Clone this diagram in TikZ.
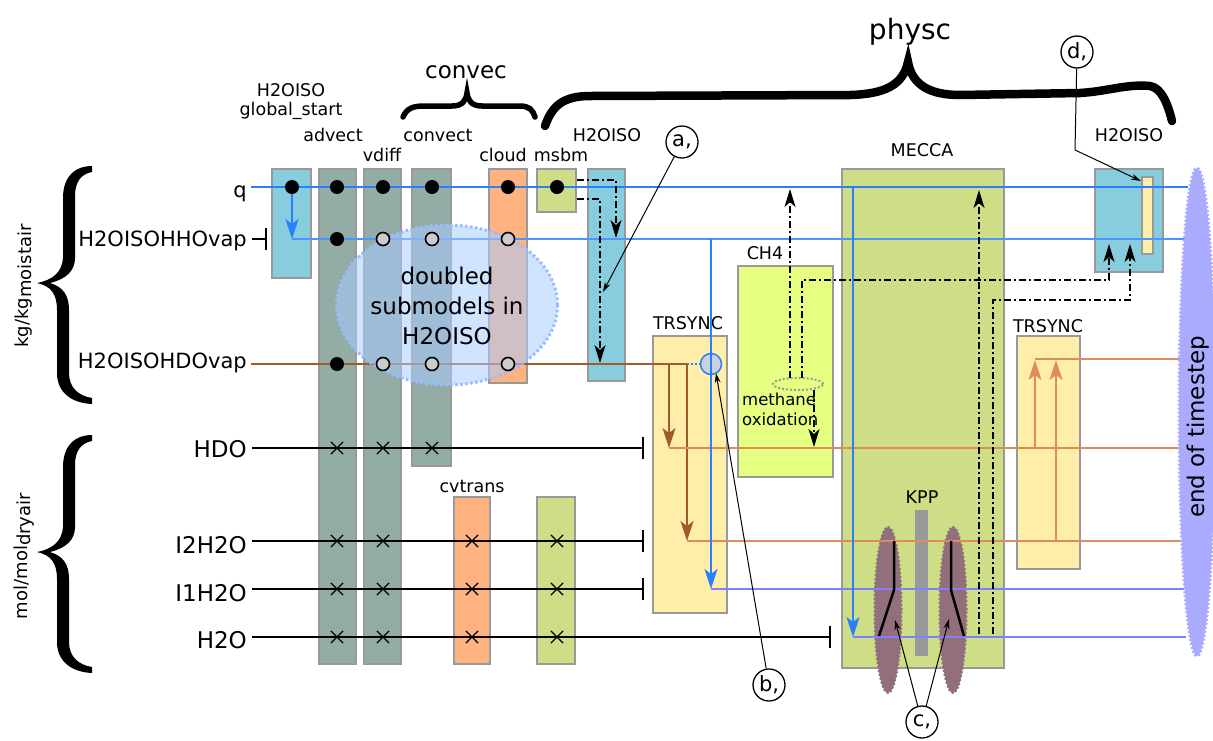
\documentclass[tikz,border=0pt]{standalone}
\usepackage{fontspec}
\setmainfont{DejaVu Sans}
\usetikzlibrary{arrows.meta,fit,shapes.geometric,shapes.misc}
\definecolor{boxgrey}{HTML}{999999}
\definecolor{isoblue}{HTML}{87CDDE}
\definecolor{advgrey}{HTML}{93ACA5}
\definecolor{cloudor}{HTML}{FFB380}
\definecolor{msbmgr}{HTML}{CDDE87}
\definecolor{chfour}{HTML}{E5FF80}
\definecolor{trsy}{HTML}{FFEEAA}
\definecolor{qblue}{HTML}{2A7FFF}
\definecolor{lblue}{HTML}{4D94FF}
\definecolor{purp}{HTML}{8080FF}
\definecolor{hdbrown}{HTML}{A05A2C}
\definecolor{lorange}{HTML}{DE8C5A}
\definecolor{tsblue}{HTML}{AAAAFF}
\definecolor{kppmauve}{HTML}{916F7C}
\definecolor{dblfill}{HTML}{AACCFF}
\definecolor{dbledge}{HTML}{99BBFF}
\definecolor{dotgrey}{HTML}{CCCCCC}
\definecolor{circfill}{HTML}{C8D3DC}
\begin{document}
\begin{tikzpicture}[x=1pt,y=-1pt,
  arr/.style={-{Stealth[length=20pt,width=13pt,inset=5pt]}},
  ddtip/.style={-{Stealth[length=18pt,width=11pt,inset=5pt]}},
  box/.style={draw=boxgrey,line width=2pt,inner sep=0pt,outer sep=0pt},
  lbl/.style={font=\fontsize{17.5}{20}\selectfont,inner sep=0pt},
  rowa/.style={font=\fontsize{21}{24}\selectfont,anchor=base east,inner sep=0pt},
  rowb/.style={font=\fontsize{23}{26}\selectfont,anchor=base east,inner sep=0pt},
  qline/.style={draw=qblue,line width=2pt},
  hhline/.style={draw=lblue,line width=2pt},
  hdline/.style={draw=hdbrown,line width=2pt},
  orline/.style={draw=lorange,line width=2pt},
  puline/.style={draw=purp,line width=2pt},
  blkline/.style={draw=black,line width=2.2pt,-{Bar[width=22pt]}},
  dd/.style={draw=black,line width=2pt,dash pattern=on 7pt off 3pt on 2pt off 3pt},
  bdot/.style={circle,fill=black,minimum size=14pt,inner sep=0pt},
  odot/.style={circle,draw=black,fill=dotgrey,line width=1.6pt,minimum size=13pt,inner sep=0pt},
  xmk/.style={cross out,draw=black,line width=1.2pt,minimum size=11pt,inner sep=0pt},
  callout/.style={circle,draw=black,line width=1.3pt,fill=white,minimum size=32pt,inner sep=0pt,font=\fontsize{21}{22}\selectfont},
  cline/.style={draw=black,line width=1pt,-{Stealth[length=10pt,width=6pt]}},
  kppell/.style={ellipse,fill=kppmauve,draw=kppmauve,line width=2pt,dash pattern=on 2pt off 2pt,minimum width=27pt,minimum height=166pt,inner sep=0pt},
]
\useasboundingbox (0,0) rectangle (1213,740);

% ---------- left braces ----------
\foreach \yy in {166,435}{
\fill[shift={(0,\yy)}] (92,0) .. controls (76,0) and (64,9) .. (63,30) -- (63,92) .. controls (62,106) and (53,114) .. (37,117) .. controls (51,120) and (57,128) .. (57,144) -- (57,207) .. controls (57,226) and (71,237) .. (92,238) -- (92,232) .. controls (79,230) and (69,222) .. (69,207) -- (69,144) .. controls (69,129) and (63,121) .. (50,117) .. controls (66,113) and (75,105) .. (75,92) -- (75,30) .. controls (75,16) and (81,8) .. (92,6) -- cycle;
}
\node[rotate=90,font=\fontsize{18}{20}\selectfont,inner sep=0pt] (kgl) at (24,286) {kg/kg\raisebox{-3pt}{moistair}};
\node[rotate=90,font=\fontsize{18}{20}\selectfont,inner sep=0pt] (moll) at (24,556) {mol/mol\raisebox{-3pt}{dryair}};

% ---------- top braces ----------
\draw[line width=5.5pt,line cap=round] (403,117) .. controls (407,108) and (413,106) .. (425,106) -- (452,106) .. controls (462,106) and (466,101) .. (467,93) .. controls (468,101) and (472,106) .. (482,106) -- (520,106) .. controls (529,106) and (533,110) .. (535,117);
\draw[line width=8.5pt,line cap=round] (545,126) .. controls (552,106) and (563,96) .. (590,96) -- (850,95) .. controls (885,94) and (903,85) .. (908,62) .. controls (912,85) and (930,95) .. (960,95) -- (1080,93) .. controls (1110,91) and (1125,84) .. (1150,86) .. controls (1162,88) and (1168,105) .. (1172,121);
\node[font=\fontsize{23}{26}\selectfont,inner sep=0pt] (convec) at (466,72) {convec};
\node[font=\fontsize{28}{30}\selectfont,inner sep=0pt] (physc) at (910,32) {physc};

% ---------- boxes ----------
\node[box,fill=isoblue,fit={(272,169) (311,278)}] (gs) {};
\node[box,fill=advgrey,fit={(319,169) (356,664)}] (advect) {};
\node[box,fill=advgrey,fit={(364,169) (401,664)}] (vdiff) {};
\node[box,fill=advgrey,fit={(412,169) (451,466)}] (convect) {};
\node[box,fill=cloudor,fit={(489,169) (527,383)}] (cloud) {};
\node[box,fill=msbmgr,fit={(537,169) (576,212)}] (msbm) {};
\node[box,fill=isoblue,fit={(588,169) (625,381)}] (isotwo) {};
\node[box,fill=cloudor,fit={(454,497) (490,664)}] (cvtrans) {};
\node[box,fill=msbmgr,fit={(537,497) (575,664)}] (msbmtwo) {};
\node[box,fill=trsy,fit={(653,336) (727,613)}] (trsone) {};
\node[box,fill=chfour,fit={(738,266) (833,477)}] (ch4) {};
\node[box,fill=msbmgr,fit={(842,169) (1004,668)}] (mecca) {};
\node[box,fill=isoblue,fit={(1095,169) (1163,272)}] (isothree) {};
\node[box,fill=trsy,line width=1.5pt,fit={(1142,177) (1153,254)}] (isoin) {};
\node[box,fill=trsy,fit={(1017,336) (1080,569)}] (trstwo) {};
\node[fill=boxgrey,inner sep=0pt,fit={(915,510) (928,656)}] (kpp) {};
\node[kppell] (kppl) at (888,610) {};
\node[kppell] (kppr) at (953,610) {};

% ---------- labels ----------
\node[lbl] (lgsa) at (291,90) {H2OISO};
\node[lbl] (lgsb) at (291,111) {global\_start};
\node[lbl] (ladv) at (333,135) {advect};
\node[lbl] (lvd) at (382,155) {vdiff};
\node[lbl] (lcv) at (438,135) {convect};
\node[lbl] (lcl) at (503,155) {cloud};
\node[lbl] (lms) at (561,155) {msbm};
\node[lbl] (liso) at (607,135) {H2OISO};
\node[lbl] (lcvt) at (472,486) {cvtrans};
\node[lbl] (ltrsa) at (688,323) {TRSYNC};
\node[lbl] (lch) at (765,253) {CH4};
\node[lbl] (lmec) at (922,150) {MECCA};
\node[lbl] (lkpp) at (922,497) {KPP};
\node[lbl] (lisob) at (1129,135) {H2OISO};
\node[lbl] (ltrsb) at (1048,326) {TRSYNC};
\node[font=\fontsize{16.5}{20}\selectfont,align=left,anchor=north west,inner sep=0pt] (meox) at (742,393) {methane\\oxidation};

% ---------- row labels ----------
\node[rowa] (lq) at (247,197) {q};
\node[rowa] (lhh) at (247,246) {H2OISOHHOvap};
\node[rowa] (lhd) at (247,368) {H2OISOHDOvap};
\node[rowb] (lhdo) at (247,457) {HDO};
\node[rowb] (lia) at (247,553) {I2H2O};
\node[rowb] (lib) at (247,601) {I1H2O};
\node[rowb] (lh2o) at (247,648) {H2O};

% ---------- coordinates ----------
\coordinate (qs) at (251,187); \coordinate (qe) at (1188,187);
\coordinate (qa) at (292,187);
\coordinate (hhs) at (252,239); \coordinate (hhb) at (267,239);
\coordinate (hhc) at (292,239); \coordinate (hhe) at (1185,239);
\coordinate (hds) at (251,364); \coordinate (hdj) at (669,364); \coordinate (hdk) at (687,364);
\coordinate (oa) at (669,448); \coordinate (oae) at (1182,448);
\coordinate (ob) at (687,541); \coordinate (obe) at (1182,541);
\coordinate (bva) at (711,239); \coordinate (bvae) at (711,589); \coordinate (pua) at (1184,589);
\coordinate (bvb) at (853,187); \coordinate (bvbe) at (853,637); \coordinate (pub) at (1186,637);

% ---------- coloured lines ----------
\draw[qline] (qs) -- (qe);
\draw[black,line width=2.2pt,-{Bar[width=22pt]}] (hhs) -- (hhb);
\draw[qline,arr] (qa) -- (hhc);
\draw[hhline] (hhc) -- (hhe);
\draw[hdline] (hds) -- (hdk);
\node[circle,draw=qblue,fill=circfill,line width=1.5pt,minimum size=21pt,inner sep=0pt] (circ) at (711,364) {};
\draw[draw=qblue,line width=2pt,dash pattern=on 2pt off 2pt] (hdk) -- (circ.west);
\draw[hdline,arr] (hdj) -- (oa);
\draw[hdline,arr] (hdk) -- (ob);
\draw[orline] (oa) -- (oae);
\draw[orline] (ob) -- (obe);
\draw[qline,arr] (bva) -- (bvae);
\draw[puline] (bvae) -- (pua);
\draw[qline,arr] (bvb) -- (bvbe);
\draw[puline] (bvbe) -- (pub);

% ---------- black species lines ----------
\coordinate (hdos) at (252,448); \coordinate (hdoe) at (644,448);
\coordinate (ias) at (252,541); \coordinate (iae) at (644,541);
\coordinate (ibs) at (252,589); \coordinate (ibe) at (644,589);
\coordinate (hts) at (252,637); \coordinate (hte) at (831,637);
\draw[blkline] (hdos) -- (hdoe);
\draw[blkline] (ias) -- (iae);
\draw[blkline] (ibs) -- (ibe);
\draw[blkline] (hts) -- (hte);

% ---------- KPP switches ----------
\draw[line width=2.5pt] (894,541) -- (894,590) -- (879,636);
\draw[line width=2.5pt] (951,541) -- (951,590) -- (964,636);

% ---------- dash-dot arrows ----------
\node[ellipse,draw=boxgrey,line width=2pt,dash pattern=on 2pt off 2pt,minimum width=50pt,minimum height=12pt,inner sep=0pt] (meth) at (798,384) {};
\draw[dd,ddtip] (577,180) -- (616,180) -- (616,238);
\draw[dd,ddtip] (577,199) -- (600,199) -- (600,363);
\draw[dd,ddtip] (790,378) -- (790,189);
\draw[dd,ddtip] (802,378) -- (802,280) -- (1109,280) -- (1109,244);
\draw[dd,ddtip] (814,390) -- (814,447);
\draw[dd,ddtip] (979,634) -- (979,190);
\draw[dd,ddtip] (993,634) -- (993,300) -- (1130,300) -- (1130,244);

% ---------- TRSYNC 2 ----------
\draw[orline,arr] (1035,448) -- (1035,360);
\draw[orline,arr] (1056,541) -- (1056,360);
\draw[orline] (1035,359) -- (1182,359);

% ---------- doubled ellipse ----------
\node[ellipse,fill=dblfill,fill opacity=0.55,draw=dbledge,draw opacity=1,line width=3pt,dash pattern=on 2.5pt off 2.5pt,minimum width=221pt,minimum height=160pt,inner sep=0pt] (dbl) at (447,305) {};
\node[font=\fontsize{23}{30}\selectfont,align=center,inner sep=0pt] (dbltxt) at (447,306) {doubled\\submodels in\\H2OISO};

% ---------- dots ----------
\node[bdot] (da) at (qa) {};
\foreach \xx in {337,383,432,508,557}{\node[bdot] at (\xx,187) {};}
\node[bdot] (db) at (337,239) {};
\node[bdot] (dc) at (337,364) {};
\foreach \xx in {383,432,508}{\node[odot] at (\xx,239) {}; \node[odot] at (\xx,364) {};}

% ---------- crosses ----------
\foreach \xx in {337,383,432}{\node[xmk] at (\xx,448) {};}
\foreach \yy in {541,589,637}{\foreach \xx in {337,383,472,557}{\node[xmk] at (\xx,\yy) {};}}

% ---------- end of timestep ----------
\node[ellipse,fill=tsblue,draw=tsblue,line width=3pt,dash pattern=on 2pt off 2pt,minimum width=36pt,minimum height=488pt,inner sep=0pt] (eot) at (1197,412) {};
\node[rotate=90,font=\fontsize{23}{26}\selectfont,inner sep=0pt] (eottxt) at (1198,427) {end of timestep};

% ---------- callouts ----------
\node[callout] (ca) at (682,142) {a,};
\node[callout] (cb) at (769,685) {b,};
\node[callout] (cc) at (922,722) {c,};
\node[callout] (cd) at (1077,52) {d,};
\coordinate (ta) at (603,292);
\coordinate (tb) at (716,373);
\coordinate (tca) at (895,620);
\coordinate (tcb) at (949,619);
\coordinate (dk) at (1075,150);
\coordinate (td) at (1141,181);
\draw[cline] (ca) -- (ta);
\draw[cline] (cb) -- (tb);
\draw[cline] (cc) -- (tca);
\draw[cline] (cc) -- (tcb);
\draw[cline] (cd) -- (dk) -- (td);
\end{tikzpicture}
\end{document}
